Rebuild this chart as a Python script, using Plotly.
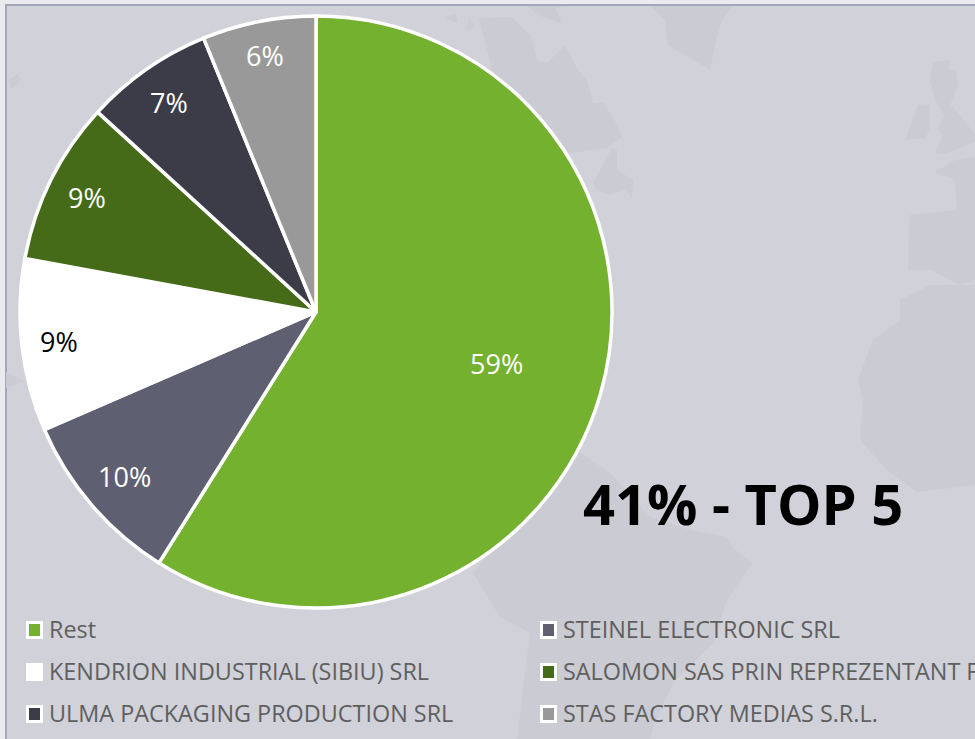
import math
import plotly.graph_objects as go

W, H = 975, 739
labels = ["Rest", "STEINEL ELECTRONIC SRL", "KENDRION INDUSTRIAL (SIBIU) SRL",
          "SALOMON SAS PRIN REPREZENTANT F", "ULMA PACKAGING PRODUCTION SRL",
          "STAS FACTORY MEDIAS S.R.L."]
values = [58.9, 9.6, 9.4, 8.9, 7.0, 6.2]
colors = ["#73b12f", "#5e6071", "#ffffff", "#456b19", "#3c3c49", "#999999"]
text_colors = ["#ffffff", "#ffffff", "#000000", "#ffffff", "#ffffff", "#ffffff"]
label_radius = [188, 252, 259, 256, 256, 261]
legend_order = [0, 2, 4, 1, 3, 5]
headline = "41% - TOP 5"

BG = "#d0d1d9"
LAND = "#cacbd3"
OUTER = "#ebebef"
BORDER = "#a3a7b9"
CX, CY, R = 316, 312, 296

land = [
    [(650,6),(665,20),(668,45),(710,70),(716,40),(722,20),(731,8),(731,6)],
    [(933,62),(950,60),(948,68),(956,72),(958,85),(950,105),(960,115),(975,135),(975,142),(945,154),(935,153),(943,135),(937,130),(945,115),(935,100),(930,80)],
    [(905,140),(918,105),(930,104),(930,130),(925,138)],
    [(479,18),(512,17),(532,37),(537,60),(547,63),(565,45),(578,70),(587,80),(593,103),(603,103),(613,117),(622,137),(607,148),(570,153),(500,100)],
    [(593,183),(612,148),(617,150),(617,170),(633,180),(632,197),(625,190),(610,195),(597,190)],
    [(445,18),(455,13),(458,23)],
    [(465,30),(470,18),(475,28)],
    [(528,6),(537,15),(562,23),(555,8),(572,6)],
    [(975,157),(955,160),(935,172),(955,180),(957,210),(910,215),(908,270),(930,270),(960,285),(975,280)],
    [(930,285),(900,300),(900,320),(873,340),(858,380),(863,400),(860,440),(887,470),(917,492),(975,485),(975,285)],
    [(577,450),(610,473),(650,517),(690,530),(727,537),(733,548),(752,563),(725,603),(727,600),(713,643),(673,683),(653,727),(650,739),(517,739),(530,633),(500,617),(473,573)],
    [(6,372),(24,381),(6,388)],
    [(8,80),(18,74),(21,80),(12,89)],
]

def px(x): return x / W
def py(y): return 1 - y / H
def path(pts):
    return "M" + "L".join(f"{px(x):.4f},{py(y):.4f}" for x, y in pts) + "Z"

shapes = [dict(type="rect", xref="paper", yref="paper", x0=px(6), x1=1.01, y0=-0.01, y1=py(5),
               fillcolor=BG, line=dict(color=BORDER, width=2), layer="below")]
for pts in land:
    shapes.append(dict(type="path", xref="paper", yref="paper", path=path(pts),
                       fillcolor=LAND, line=dict(width=0), layer="below"))

annotations = [dict(text=f"<b>{headline}</b>", x=px(581), y=py(503), xref="paper", yref="paper",
                    xanchor="left", yanchor="middle", showarrow=False,
                    font=dict(family="Open Sans", size=56, color="#000000"))]

col_x = [26, 540]
row_y = [630, 672, 714]
for n, i in enumerate(legend_order):
    x = col_x[n // 3]
    y = row_y[n % 3]
    shapes.append(dict(type="rect", xref="paper", yref="paper", x0=px(x), x1=px(x + 17),
                       y0=py(y - 9), y1=py(y + 9), fillcolor="#ffffff", line=dict(width=0), layer="above"))
    shapes.append(dict(type="rect", xref="paper", yref="paper", x0=px(x + 3), x1=px(x + 14),
                       y0=py(y - 6), y1=py(y + 6), fillcolor=colors[i], line=dict(width=0), layer="above"))
    annotations.append(dict(text=labels[i], x=px(x + 20.5), y=py(y - 1), xref="paper", yref="paper",
                            xanchor="left", yanchor="middle", showarrow=False,
                            font=dict(family="Open Sans", size=23.4, color="#5f5f5f")))

# Percent labels follow each slice's mid-angle, computed from the values.
total = sum(values)
cum = 0
for v, c, r in zip(values, text_colors, label_radius):
    mid = (cum + v / 2) / total * 2 * math.pi
    cum += v
    annotations.append(dict(text=f"{v / total:.0%}", x=px(CX + r * math.sin(mid)),
                            y=py(CY - r * math.cos(mid)), xref="paper", yref="paper",
                            xanchor="center", yanchor="middle", showarrow=False,
                            font=dict(family="Open Sans", size=27, color=c)))

fig = go.Figure(go.Pie(
    labels=labels, values=values, sort=False, direction="clockwise", rotation=0,
    marker=dict(colors=colors, line=dict(color="#ffffff", width=3.5)),
    textinfo="none",
    domain=dict(x=[px(CX - R), px(CX + R)], y=[py(CY + R), py(CY - R)]),
    hoverinfo="label+percent", showlegend=False,
))
fig.update_layout(width=W, height=H, margin=dict(l=0, r=0, t=0, b=0), paper_bgcolor=OUTER,
                  plot_bgcolor=BG, shapes=shapes, annotations=annotations, showlegend=False,
                  font=dict(family="Open Sans"))
fig.write_html("out.html", config={"displayModeBar": False},
               post_script="document.body.style.margin='0';document.body.style.overflow='hidden';")
